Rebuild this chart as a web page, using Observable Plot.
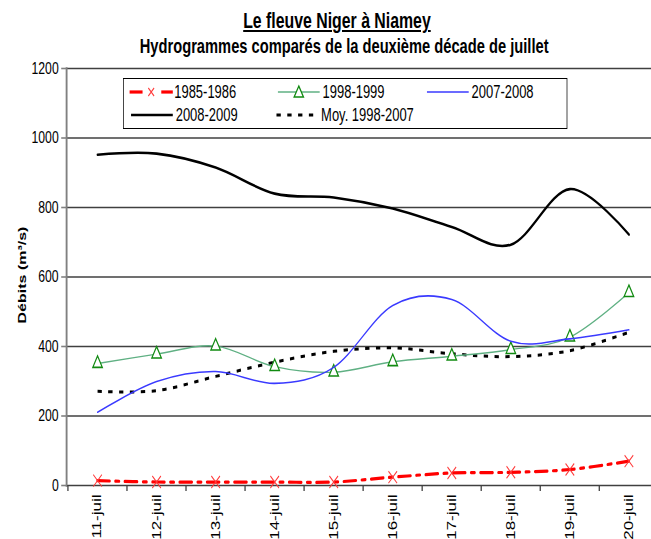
<!DOCTYPE html>
<html><head><meta charset="utf-8">
<script src="https://cdn.jsdelivr.net/npm/d3@7"></script>
<script src="https://cdn.jsdelivr.net/npm/@observablehq/plot@0.6"></script>
<style>
body{margin:0;background:#fff;}
#wrap{position:relative;width:651px;height:539px;overflow:hidden;background:#fff;}
#inner{position:absolute;left:0;top:0;width:916px;height:539px;transform:scaleX(0.72);transform-origin:0 0;
  font-family:"Liberation Sans",Arial,sans-serif;color:#000;}
#title{position:absolute;left:0;width:936px;top:10px;line-height:22px;text-align:center;font-weight:bold;font-size:22px;
  text-decoration:underline;}
#subtitle{position:absolute;left:0;width:956px;top:36px;line-height:20px;text-align:center;font-weight:bold;font-size:20.4px;}
#chart{position:absolute;left:0;top:0;}
#chart svg{max-width:none;}
#legend{position:absolute;left:171px;top:78px;width:615px;height:49px;border:1.4px solid #000;background:#fff;font-size:18px;}
.item{position:absolute;height:22px;white-space:nowrap;}
.item svg{position:absolute;left:0;top:6px;}
.item span{position:absolute;top:0;line-height:22px;}
</style></head>
<body>
<div id="wrap"><div id="inner">
  <div id="title">Le fleuve Niger à Niamey</div>
  <div id="subtitle">Hydrogrammes comparés de la deuxième décade de juillet</div>
  <div id="chart"></div>
  <div id="legend"></div>
</div></div>
<script>
// ---- data ----
const dates = ["11-juil","12-juil","13-juil","14-juil","15-juil","16-juil","17-juil","18-juil","19-juil","20-juil"];
const q19851986 = [14, 10, 10, 10, 10, 24, 36, 38, 46, 70];
const q19981999 = [351, 378, 401, 342, 326, 356, 372, 391, 427, 555];
const q20072008 = [211, 299, 328, 294, 340, 518, 535, 415, 422, 448];
const q20082009 = [952, 955, 915, 840, 829, 797, 744, 693, 853, 722];
const qMoy = [271, 273, 314, 355, 386, 396, 379, 371, 388, 441];
const yTicks = [0, 200, 400, 600, 800, 1000, 1200];
const seriesNames = ["1985-1986", "1998-1999", "2007-2008", "2008-2009", "Moy. 1998-2007"];

const seriesValues = [q19851986, q19981999, q20072008, q20082009, qMoy];
const rows = seriesNames.flatMap((s, k) => seriesValues[k].map((v, i) => ({date: dates[i], serie: s, q: v})));
const sel = name => rows.filter(r => r.serie === name);

// geometry in un-squashed units (the whole figure is squashed horizontally by 0.72)
const W = 916, H = 539, mL = 92, mR = 1, mT = 68, mB = 54;
const bw = (W - mL - mR) / dates.length;

const chart = Plot.plot({
  width: W, height: H, marginLeft: mL, marginRight: mR, marginTop: mT, marginBottom: mB,
  style: {fontFamily: '"Liberation Sans",Arial,sans-serif', background: "transparent", color: "#000"},
  x: {type: "band", domain: dates, padding: 0, axis: null},
  y: {domain: [0, 1200], axis: null},
  marks: [
    Plot.ruleY(yTicks, {stroke: "#404040", strokeWidth: 1.5}),
    Plot.frame({anchor: "left", stroke: "#808080", strokeWidth: 2.6}),
    Plot.axisX({tickSize: 6, dx: -bw / 2, tickFormat: () => "", stroke: "#404040", strokeWidth: 1.8, label: null}),
    Plot.axisX({tickSize: 0, tickRotate: -90, tickPadding: 9, fontSize: 17, label: null}),
    Plot.axisY({ticks: yTicks, tickFormat: d => String(d), tickSize: 7, tickPadding: 4, fontSize: 17, label: null, stroke: "#808080", strokeWidth: 1.6}),
    Plot.text(["Débits (m³/s)"], {frameAnchor: "left", textAnchor: "middle", rotate: -90, dx: -61, dy: -2, fontWeight: "bold", fontSize: 16}),
    // 2008-2009
    Plot.line(sel("2008-2009"), {x: "date", y: "q", curve: "cardinal", stroke: "#000", strokeWidth: 2.6}),
    // Moyenne
    Plot.line(sel("Moy. 1998-2007"), {x: "date", y: "q", curve: "cardinal", stroke: "#000", strokeWidth: 3, strokeDasharray: "6,9", strokeLinecap: "butt"}),
    // 1998-1999
    Plot.line(sel("1998-1999"), {x: "date", y: "q", curve: "cardinal", stroke: "#5fb083", strokeWidth: 1.4}),
    Plot.dot(sel("1998-1999"), {x: "date", y: "q", symbol: "triangle2", r: 6.3, stroke: "#118a11", fill: "#fff", strokeWidth: 1.6}),
    // 2007-2008
    Plot.line(sel("2007-2008"), {x: "date", y: "q", curve: "cardinal", stroke: "#3a3aff", strokeWidth: 1.6}),
    // 1985-1986
    Plot.line(sel("1985-1986"), {x: "date", y: "q", curve: "cardinal", stroke: "#ff0000", strokeWidth: 3.2, strokeDasharray: "17,8,5,8"}),
    Plot.dot(sel("1985-1986"), {x: "date", y: "q", symbol: "times", r: 5.5, stroke: "#ff3a3a", strokeWidth: 1.3})
  ]
});
document.getElementById("chart").appendChild(chart);

// ---- legend (un-squashed units) ----
const legendItems = [
  {name: seriesNames[0], left: 8, top: 2, svg: '<line x1="0" y1="5" x2="18" y2="5" stroke="#ff0000" stroke-width="3.2"/><line x1="44" y1="5" x2="60" y2="5" stroke="#ff0000" stroke-width="3.2"/><path d="M26,1L34,9M34,1L26,9" stroke="#ff3a3a" stroke-width="1.4"/>'},
  {name: seriesNames[1], left: 214, top: 2, svg: '<line x1="0" y1="5" x2="58" y2="5" stroke="#5fb083" stroke-width="1.4"/><path d="M29,-1L35.5,10L22.5,10Z" fill="#fff" stroke="#118a11" stroke-width="1.6"/>'},
  {name: seriesNames[2], left: 421, top: 2, svg: '<line x1="0" y1="5" x2="58" y2="5" stroke="#3a3aff" stroke-width="1.6"/>'},
  {name: seriesNames[3], left: 10, top: 25, svg: '<line x1="0" y1="5" x2="58" y2="5" stroke="#000" stroke-width="2.6"/>'},
  {name: seriesNames[4], left: 212, top: 25, svg: '<line x1="0" y1="5" x2="58" y2="5" stroke="#000" stroke-width="3" stroke-dasharray="6,9"/>'}
];
const lg = document.getElementById("legend");
for (const it of legendItems) {
  const d = document.createElement("div");
  d.className = "item";
  d.style.left = it.left + "px";
  d.style.top = it.top + "px";
  d.innerHTML = '<svg width="62" height="12" style="overflow:visible">' + it.svg + '</svg><span style="left:62px">' + it.name + '</span>';
  lg.appendChild(d);
}
</script>
</body></html>
